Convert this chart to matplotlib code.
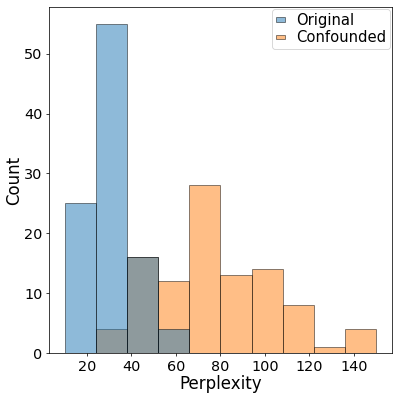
import numpy as np
import matplotlib
matplotlib.use('Agg')
import matplotlib.pyplot as plt

# Shared bin edges (10 bins from 10 to 150)
bin_edges = np.linspace(10, 150, 11)

# Counts per bin
original_counts   = [25, 55, 16, 4, 0, 0, 0, 0, 0, 0]
confounded_counts = [0, 4, 16, 12, 28, 13, 14, 8, 1, 4]

DPI = 66.5
fig = plt.figure(figsize=(6, 6), dpi=DPI)
ax = fig.add_axes([0.123, 0.115, 0.859, 0.867])

widths = np.diff(bin_edges)
ax.bar(bin_edges[:-1], confounded_counts, width=widths, align='edge',
       color='#ff7f0e', alpha=0.5, edgecolor='black', linewidth=1.0,
       label='Confounded', zorder=2)
ax.bar(bin_edges[:-1], original_counts, width=widths, align='edge',
       color='#1f77b4', alpha=0.5, edgecolor='black', linewidth=1.0,
       label='Original', zorder=3)

ax.set_xlabel('Perplexity', fontsize=18, labelpad=2)
ax.set_ylabel('Count', fontsize=18, labelpad=1)
ax.tick_params(axis='both', labelsize=15.5)
ax.set_xticks([20, 40, 60, 80, 100, 120, 140])
ax.set_yticks([0, 10, 20, 30, 40, 50])

handles, labels = ax.get_legend_handles_labels()
ax.legend(handles[::-1], labels[::-1], loc='upper right', fontsize=16,
          handlelength=0.6, handleheight=0.1, handletextpad=0.75,
          borderaxespad=0.15, borderpad=0.25, labelspacing=0.15)

plt.savefig('out.png', dpi=DPI)
